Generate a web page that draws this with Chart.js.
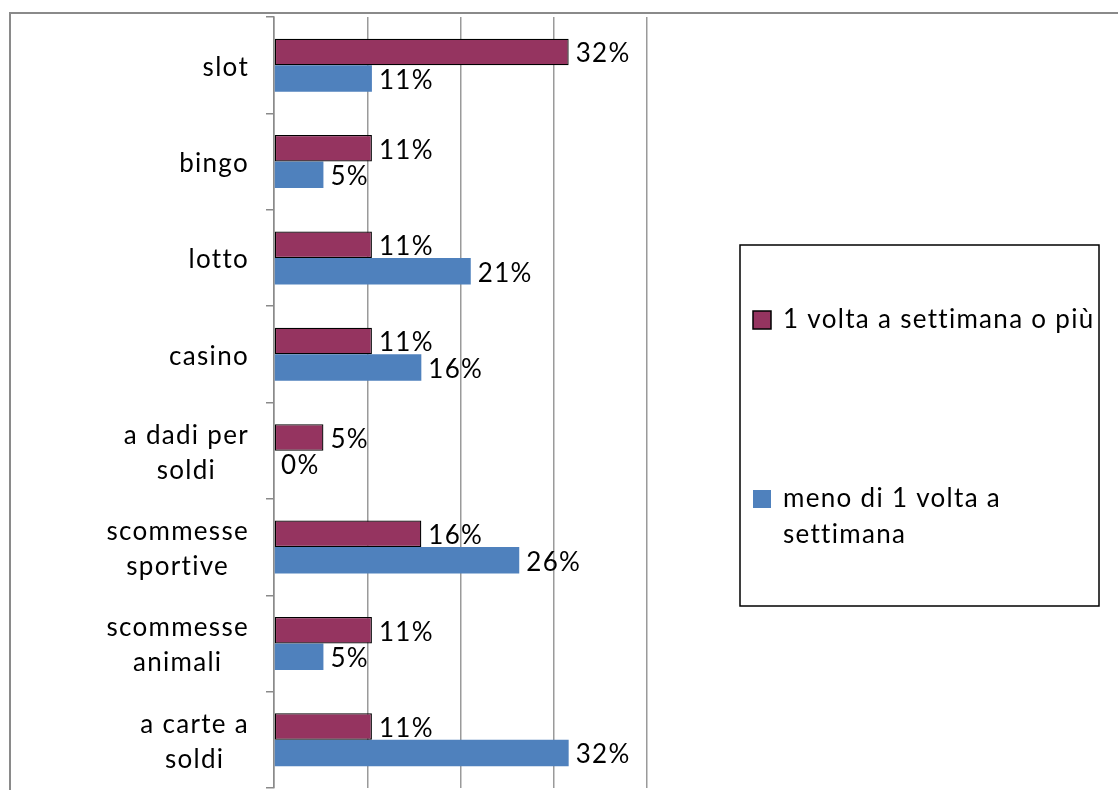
<!DOCTYPE html>
<html>
<head>
<meta charset="utf-8">
<script src="https://cdn.jsdelivr.net/npm/chart.js@4.4.1/dist/chart.umd.min.js"></script>
<style>
  html, body { margin: 0; padding: 0; background: #fff; }
  #wrap { position: relative; width: 1118px; height: 790px; overflow: hidden; }
  #frame { position: absolute; left: 9px; top: 12px; width: 1200px; height: 900px;
           border: 2px solid #8a8a8a; box-sizing: border-box; pointer-events: none; }
  canvas { position: absolute; left: 0; top: 0; }
</style>
</head>
<body>
<div id="wrap">
  <div id="frame"></div>
  <canvas id="c" width="1118" height="790"></canvas>
</div>
<script>
// ---- data ----
const categories = [
  ['slot'], ['bingo'], ['lotto'], ['casino'],
  ['a dadi per', 'soldi'], ['scommesse', 'sportive'],
  ['scommesse', 'animali'], ['a carte a', 'soldi']
];
const seriesNames = ['1 volta a settimana o più', 'meno di 1 volta a settimana'];
const weeklyOrMore = [31.6, 10.5, 10.5, 10.5, 5.3, 15.8, 10.5, 10.5];
const lessThanWeekly = [10.5, 5.3, 21.1, 15.8, 0, 26.3, 5.3, 31.6];
const xTicks = [0, 10, 20, 30, 40];

const FONT = 'Lato, "Open Sans", sans-serif';
const FS = 26;
const LS = '1.3px';

const yLabelsPlugin = {
  id: 'yLabels',
  afterDraw(chart) {
    const ctx = chart.ctx;
    const ys = chart.scales.y;
    const rightEdge = ys.right - 25;
    ctx.save();
    ctx.font = FS + 'px ' + FONT;
    ctx.letterSpacing = LS;
    ctx.fillStyle = '#000';
    ctx.textAlign = 'center';
    ctx.textBaseline = 'middle';
    const lh = 35;
    categories.forEach((lines, i) => {
      const cy = ys.getPixelForTick(i) + 2;
      const w = Math.max(...lines.map(l => ctx.measureText(l).width));
      const cx = rightEdge - w / 2;
      lines.forEach((l, j) => {
        ctx.fillText(l, cx, cy + (j - (lines.length - 1) / 2) * lh);
      });
    });
    ctx.restore();
  }
};

const valueLabelsPlugin = {
  id: 'valueLabels',
  afterDatasetsDraw(chart) {
    const ctx = chart.ctx;
    ctx.save();
    ctx.font = FS + 'px ' + FONT;
    ctx.letterSpacing = LS;
    ctx.fillStyle = '#000';
    ctx.textAlign = 'left';
    ctx.textBaseline = 'middle';
    chart.data.datasets.forEach((ds, di) => {
      const meta = chart.getDatasetMeta(di);
      meta.data.forEach((bar, i) => {
        ctx.fillText(Math.round(ds.data[i]) + '%', bar.x + 7, bar.y + 2);
      });
    });
    ctx.restore();
  }
};

const boxLegendPlugin = {
  id: 'boxLegend',
  afterDraw(chart) {
    const ctx = chart.ctx;
    const box = { x: 740, y: 245, w: 359, h: 361 };
    ctx.save();
    ctx.strokeStyle = '#000';
    ctx.lineWidth = 1.5;
    ctx.strokeRect(box.x, box.y, box.w, box.h);
    ctx.font = FS + 'px ' + FONT;
    ctx.letterSpacing = LS;
    ctx.textBaseline = 'middle';
    ctx.textAlign = 'left';
    const itemY = [320, 499];
    const textX = box.x + 43;
    const maxW = box.x + box.w - textX - 2;
    chart.data.datasets.forEach((ds, di) => {
      const words = ds.label.split(' ');
      const lines = [];
      let cur = '';
      words.forEach(w => {
        const t = cur ? cur + ' ' + w : w;
        if (ctx.measureText(t).width > maxW && cur) { lines.push(cur); cur = w; }
        else cur = t;
      });
      if (cur) lines.push(cur);
      const y0 = itemY[di];
      ctx.fillStyle = ds.backgroundColor;
      ctx.fillRect(box.x + 13, y0 - 9, 18, 18);
      if (ds.borderWidth) {
        ctx.strokeStyle = ds.borderColor;
        ctx.lineWidth = 1.5;
        ctx.strokeRect(box.x + 13, y0 - 9, 18, 18);
      }
      ctx.fillStyle = '#000';
      lines.forEach((l, j) => ctx.fillText(l, textX, y0 + j * 36));
    });
    ctx.restore();
  }
};

new Chart(document.getElementById('c'), {
  type: 'bar',
  data: {
    labels: categories.map(c => c.join(' ')),
    datasets: [
      { label: seriesNames[0], data: weeklyOrMore, backgroundColor: '#953460',
        borderColor: '#000', borderWidth: 1.3, borderSkipped: false },
      { label: seriesNames[1], data: lessThanWeekly, backgroundColor: '#4f81bd',
        borderWidth: 0 }
    ]
  },
  options: {
    indexAxis: 'y',
    responsive: false,
    animation: false,
    events: [],
    categoryPercentage: 0.55,
    barPercentage: 1.0,
    layout: { padding: { top: 17, right: 471, bottom: 2, left: 0 } },
    plugins: { legend: { display: false }, tooltip: { enabled: false } },
    scales: {
      x: {
        min: xTicks[0], max: xTicks[xTicks.length - 1],
        afterBuildTicks: (s) => { s.ticks = xTicks.map(v => ({ value: v })); },
        ticks: { display: false },
        grid: { color: '#9a9a9a', lineWidth: 1.5, drawTicks: false },
        border: { display: false }
      },
      y: {
        ticks: { display: false },
        afterFit: (s) => { s.width = 274; },
        grid: { offset: true, drawOnChartArea: false, drawTicks: true, tickLength: 8,
                color: '#8a8a8a', lineWidth: 1.5 },
        border: { display: true, color: '#8a8a8a', width: 1.5 }
      }
    }
  },
  plugins: [yLabelsPlugin, valueLabelsPlugin, boxLegendPlugin]
});
</script>
</body>
</html>
